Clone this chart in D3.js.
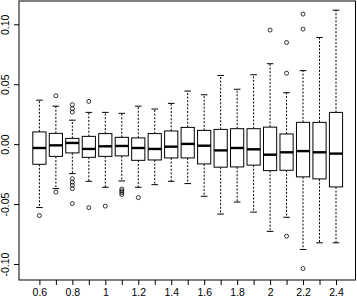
<!DOCTYPE html>
<html>
<head>
<meta charset="utf-8">
<script src="https://cdn.jsdelivr.net/npm/d3@7"></script>
<style>
  body { margin: 0; background: #fff; }
  svg { display: block; }
</style>
</head>
<body>
<div id="chart"></div>
<script>
// box statistics, one entry per category
var categories = [0.6, 0.7, 0.8, 0.9, 1, 1.1, 1.2, 1.3, 1.4, 1.5, 1.6, 1.7, 1.8, 1.9, 2, 2.1, 2.2, 2.3, 2.4];

var whiskerHigh = [0.0367, 0.0317, 0.0200, 0.0265, 0.0265, 0.0257, 0.0317, 0.0293, 0.0340, 0.0443,
  0.0412, 0.0573, 0.0458, 0.0579, 0.0671, 0.0429, 0.0613, 0.0890, 0.1118];
var upperQuartile = [0.0102, 0.0090, 0.0048, 0.0065, 0.0088, 0.0057, 0.0052, 0.0088, 0.0110, 0.0140,
  0.0115, 0.0123, 0.0129, 0.0129, 0.0142, 0.0085, 0.0182, 0.0182, 0.0265];
var medians = [-0.0032, -0.0010, 0.0010, -0.0040, -0.0018, -0.0015, -0.0032, -0.0040, -0.0021, 0.0002,
  -0.0013, -0.0052, -0.0032, -0.0043, -0.0088, -0.0068, -0.0058, -0.0068, -0.0079];
var lowerQuartile = [-0.0168, -0.0102, -0.0073, -0.0110, -0.0102, -0.0098, -0.0135, -0.0132, -0.0115, -0.0115,
  -0.0165, -0.0192, -0.0190, -0.0175, -0.0221, -0.0218, -0.0273, -0.0290, -0.0357];
var whiskerLow = [-0.0529, -0.0371, -0.0246, -0.0310, -0.0360, -0.0307, -0.0360, -0.0338, -0.0310, -0.0329,
  -0.0435, -0.0583, -0.0483, -0.0567, -0.0728, -0.0610, -0.0879, -0.0823, -0.0823];
var outliers = [
  [-0.0596],
  [0.0404, -0.0400],
  [0.0329, 0.0296, 0.0268, -0.0288, -0.0317, -0.0342, -0.0371, -0.0496],
  [0.0357, -0.0530],
  [-0.0517],
  [-0.0375, -0.0390, -0.0405, -0.0420],
  [-0.0446],
  [], [], [], [], [], [], [],
  [0.0952],
  [0.0848, 0.0592, -0.0768],
  [0.1085, 0.0960, -0.1038],
  [], []
];

var xTickLabels = ["0.6", "0.8", "1", "1.2", "1.4", "1.6", "1.8", "2", "2.2", "2.4"];
var yTicks = [-0.10, -0.05, 0, 0.05, 0.10];
var yTickLabels = ["-0.10", "-0.05", "0.00", "0.05", "0.10"];

var width = 357,
  height = 297;

var frame = { left: 19, right: 355.5, top: 1, bottom: 280 };

var x = d3.scalePoint()
  .domain(categories)
  .range([39.4, 336]);

var y = d3.scaleLinear()
  .domain([-0.10, 0.10])
  .range([264, 24.3]);

var boxWidth = x.step() * 0.8;
var stapleWidth = boxWidth * 0.5;

var boxes = categories.map(function (c, i) {
  return {
    cat: c,
    hi: whiskerHigh[i],
    q3: upperQuartile[i],
    med: medians[i],
    q1: lowerQuartile[i],
    lo: whiskerLow[i],
    out: outliers[i]
  };
});

var svg = d3.select("#chart").append("svg")
  .attr("width", width)
  .attr("height", height)
  .style("font-family", "'Liberation Sans', Arial, Helvetica, sans-serif");

var plot = svg.append("g");

// whiskers
plot.selectAll(".whisker")
  .data(boxes)
  .enter().append("g")
  .attr("class", "whisker")
  .each(function (d) {
    var g = d3.select(this);
    var cx = x(d.cat);
    [[d.q3, d.hi], [d.q1, d.lo]].forEach(function (seg) {
      g.append("line")
        .attr("x1", cx).attr("x2", cx)
        .attr("y1", y(seg[0])).attr("y2", y(seg[1]))
        .attr("stroke", "#000")
        .attr("stroke-width", 1)
        .attr("stroke-dasharray", "2,1.6");
      g.append("line")
        .attr("x1", cx - stapleWidth / 2).attr("x2", cx + stapleWidth / 2)
        .attr("y1", y(seg[1])).attr("y2", y(seg[1]))
        .attr("stroke", "#000")
        .attr("stroke-width", 1);
    });
  });

// boxes
plot.selectAll(".box")
  .data(boxes)
  .enter().append("rect")
  .attr("class", "box")
  .attr("x", d => x(d.cat) - boxWidth / 2)
  .attr("y", d => y(d.q3))
  .attr("width", boxWidth)
  .attr("height", d => y(d.q1) - y(d.q3))
  .attr("fill", "#fff")
  .attr("stroke", "#000")
  .attr("stroke-width", 1);

plot.selectAll(".median")
  .data(boxes)
  .enter().append("line")
  .attr("class", "median")
  .attr("x1", d => x(d.cat) - boxWidth / 2)
  .attr("x2", d => x(d.cat) + boxWidth / 2)
  .attr("y1", d => y(d.med))
  .attr("y2", d => y(d.med))
  .attr("stroke", "#000")
  .attr("stroke-width", 2.4);

// outliers
plot.selectAll(".outlier")
  .data(d3.merge(boxes.map(d => d.out.map(v => ({ cat: d.cat, v: v })))))
  .enter().append("circle")
  .attr("class", "outlier")
  .attr("cx", d => x(d.cat))
  .attr("cy", d => y(d.v))
  .attr("r", 2)
  .attr("fill", "none")
  .attr("stroke", "#000")
  .attr("stroke-width", 0.8);

// frame
svg.append("rect")
  .attr("x", frame.left)
  .attr("y", frame.top)
  .attr("width", frame.right - frame.left)
  .attr("height", frame.bottom - frame.top)
  .attr("fill", "none")
  .attr("stroke", "#000")
  .attr("stroke-width", 1);

// x axis
var xAxis = svg.append("g")
  .attr("transform", "translate(0," + frame.bottom + ")")
  .call(d3.axisBottom(x)
    .tickSize(5)
    .tickSizeOuter(0)
    .tickFormat(d => xTickLabels.indexOf(String(d)) >= 0 ? String(d) : ""));

xAxis.select(".domain").remove();
xAxis.selectAll("text")
  .attr("y", 9)
  .attr("font-size", "10.5px")
  .attr("font-family", "'Liberation Sans', Arial, Helvetica, sans-serif")
  .attr("fill", "#000");

// y axis, labels turned on their side
var yAxis = svg.append("g")
  .attr("transform", "translate(" + frame.left + ",0)")
  .call(d3.axisLeft(y)
    .tickValues(yTicks)
    .tickSize(5)
    .tickSizeOuter(0)
    .tickFormat((d, i) => yTickLabels[i]));

yAxis.select(".domain").remove();
yAxis.selectAll("text")
  .attr("x", 0)
  .attr("y", 0)
  .attr("dy", null)
  .attr("text-anchor", "middle")
  .attr("transform", "translate(" + (9 - frame.left) + ",0) rotate(-90)")
  .attr("font-size", "10.5px")
  .attr("font-family", "'Liberation Sans', Arial, Helvetica, sans-serif")
  .attr("fill", "#000");
</script>
</body>
</html>
